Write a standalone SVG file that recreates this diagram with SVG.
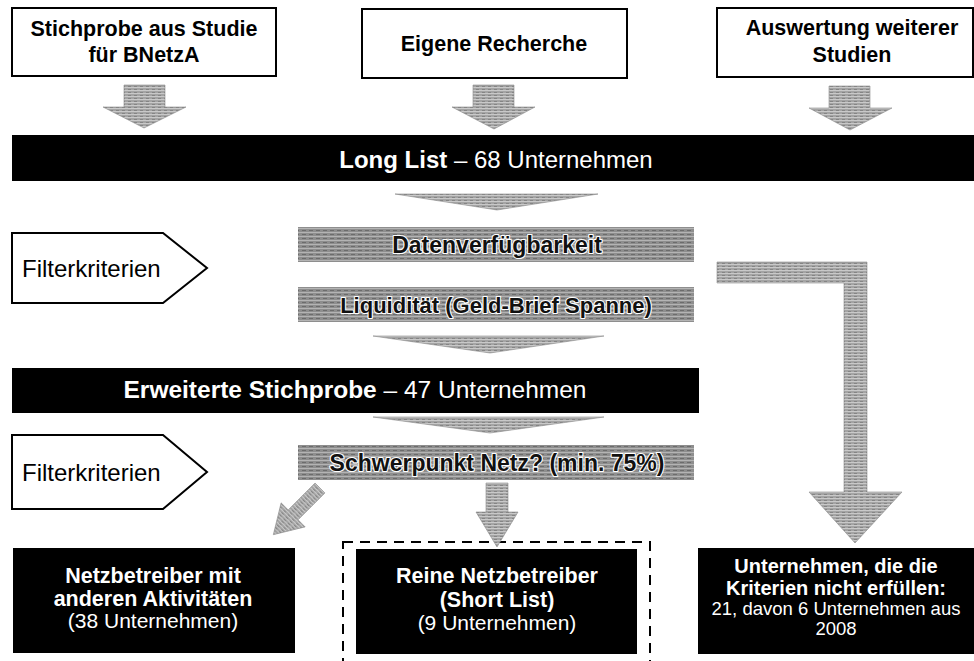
<svg xmlns="http://www.w3.org/2000/svg" width="974" height="661" viewBox="0 0 974 661">
<defs>
<pattern id="texBar" width="7" height="4" patternUnits="userSpaceOnUse">
<rect width="7" height="4" fill="#8e8e8e"/>
<rect width="7" height="1" fill="#b4b4b4"/>
<rect x="1" y="2" width="4" height="1" fill="#6c6c6c"/>
</pattern>
<pattern id="texArrow" width="6" height="3" patternUnits="userSpaceOnUse">
<rect width="6" height="3" fill="#a4a4a4"/>
<rect width="6" height="1" fill="#c9c9c9"/>
<rect x="2" y="2" width="3" height="1" fill="#858585"/>
</pattern>
</defs>
<style>
.box{fill:#fff;stroke:#000;stroke-width:2}
.blk{fill:#000}
.gbar{fill:url(#texBar)}
.arr{fill:url(#texArrow);stroke:#8a8a8a;stroke-width:0.6}
.t{font-family:"Liberation Sans",Arial,sans-serif;text-anchor:middle}
.b{font-weight:bold}
.w{fill:#fff}
.k{fill:#000}
.halo{fill:#111;stroke:#fff;stroke-width:2.2;paint-order:stroke;stroke-linejoin:round}
.dash{fill:none;stroke:#000;stroke-width:2;stroke-dasharray:10 7}
</style>
<rect width="974" height="661" fill="#fff"/>

<g id="src1">
<rect class="box" x="12" y="8" width="264" height="68"/>
<text class="t b k" x="144" y="36" font-size="21.5">Stichprobe aus Studie</text>
<text class="t b k" x="144" y="62" font-size="21.5">für BNetzA</text>
</g>
<g id="src2">
<rect class="box" x="362" y="9" width="265" height="69"/>
<text class="t b k" x="494" y="51" font-size="21.5">Eigene Recherche</text>
</g>
<g id="src3">
<rect class="box" x="717" y="8" width="256" height="69"/>
<text class="t b k" x="852" y="35" font-size="21.5">Auswertung weiterer</text>
<text class="t b k" x="852" y="62" font-size="21.5">Studien</text>
</g>

<g id="longlist">
<rect class="blk" x="12" y="135" width="962" height="46"/>
<text class="t w" x="496" y="168" font-size="24"><tspan font-weight="bold">Long List</tspan> – 68 Unternehmen</text>
</g>

<g id="filter1">
<polygon class="box" points="12,233 163,233 207,268 163,303 12,303"/>
<text x="22" y="277" font-family="Liberation Sans, Arial, sans-serif" font-size="24" fill="#000">Filterkriterien</text>
</g>

<g id="daten">
<rect class="gbar" x="298" y="227" width="396" height="35"/>
<text class="t b halo" x="497" y="253" font-size="23">Datenverfügbarkeit</text>
</g>
<g id="liquid">
<rect class="gbar" x="298" y="287" width="396" height="35"/>
<text class="t b halo" x="496" y="313" font-size="22">Liquidität (Geld-Brief Spanne)</text>
</g>

<g id="erweitert">
<rect class="blk" x="12" y="368" width="687" height="45"/>
<text class="t w" x="355" y="398" font-size="24.5"><tspan font-weight="bold">Erweiterte Stichprobe</tspan> – 47 Unternehmen</text>
</g>

<g id="filter2">
<polygon class="box" points="12,435 163,435 207,472 163,509 12,509"/>
<text x="22" y="481" font-family="Liberation Sans, Arial, sans-serif" font-size="24" fill="#000">Filterkriterien</text>
</g>

<g id="schwerpunkt">
<rect class="gbar" x="298" y="445" width="396" height="35"/>
<text class="t b halo" x="497" y="471" font-size="23">Schwerpunkt Netz? (min. 75%)</text>
</g>

<g id="andere">
<rect class="blk" x="13" y="548" width="282" height="105"/>
<text class="t b w" x="153" y="583" font-size="21.5">Netzbetreiber mit</text>
<text class="t b w" x="153" y="606" font-size="21.5">anderen Aktivitäten</text>
<text class="t w" x="153" y="628" font-size="21">(38 Unternehmen)</text>
</g>

<g id="rein">
<rect class="dash" x="343" y="542" width="307" height="130"/>
<rect class="blk" x="356" y="549" width="281" height="105"/>
<text class="t b w" x="497" y="583" font-size="21.5">Reine Netzbetreiber</text>
<text class="t b w" x="497" y="607" font-size="21.5">(Short List)</text>
<text class="t w" x="497" y="630" font-size="21">(9 Unternehmen)</text>
</g>

<g id="nicht">
<rect class="blk" x="698" y="548" width="276" height="106"/>
<text class="t b w" x="836" y="573" font-size="20">Unternehmen, die die</text>
<text class="t b w" x="836" y="595" font-size="20">Kriterien nicht erfüllen:</text>
<text class="t w" x="836" y="615" font-size="18.5">21, davon 6 Unternehmen aus</text>
<text class="t w" x="836" y="635" font-size="18.5">2008</text>
</g>

<g id="connectors">
<polygon class="arr" points="124,85 165,85 165,107 186,107 144,128 103,107 124,107"/>
<polygon class="arr" points="473,85 514,85 514,107 535,107 494,129 452,107 473,107"/>
<polygon class="arr" points="829,86 870,86 870,108 892,108 850,130 809,108 829,108"/>
<polygon class="arr" points="395,194 598,194 497,210"/>
<polygon class="arr" points="373,336 604,336 490,353"/>
<polygon class="arr" points="373,417 604,417 490,433"/>
<polygon class="arr" points="717,262 867,262 867,492 902,492 855,543 809,492 844,492 844,283 717,283"/>
<polygon class="arr" points="486,483 508,483 508,512 518,512 497,547 476,512 486,512"/>
<polygon class="arr" transform="translate(320,488) rotate(45)" points="-7,0 7,0 7,38 17,38 0,66 -17,38 -7,38"/>
</g>
</svg>
